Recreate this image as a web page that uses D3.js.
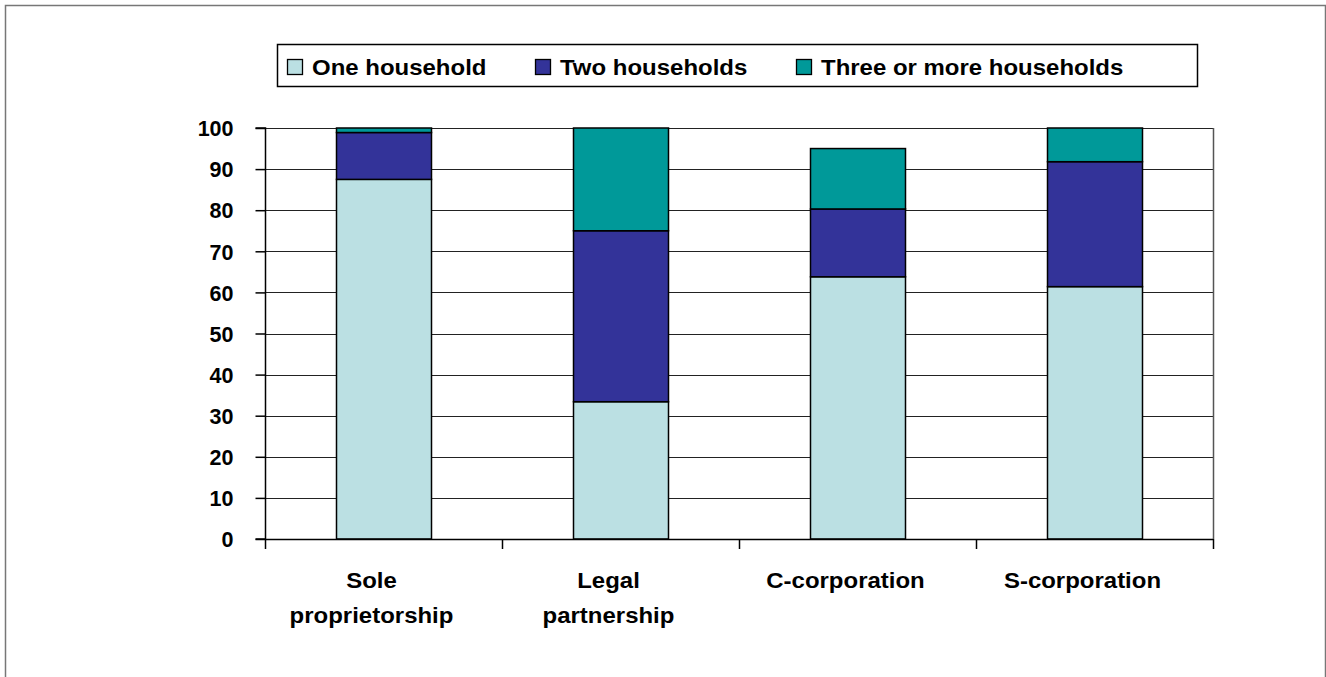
<!DOCTYPE html>
<html>
<head>
<meta charset="utf-8">
<script src="https://cdn.jsdelivr.net/npm/d3@7"></script>
<style>
  html, body { margin: 0; padding: 0; background: #fff; }
  svg { display: block; font-family: "Liberation Sans", Arial, sans-serif; font-weight: bold; }
</style>
</head>
<body>
<svg id="chart" width="1326" height="677"></svg>
<script>
const categories = [["Sole", "proprietorship"], ["Legal", "partnership"], ["C-corporation"], ["S-corporation"]];
const seriesNames = ["One household", "Two households", "Three or more households"];
const oneHousehold = [87.5, 33.4, 63.8, 61.4];
const twoHouseholds = [11.4, 41.6, 16.5, 30.4];
const threeOrMore = [1.1, 25.0, 14.7, 8.2];
const yTicks = [0, 10, 20, 30, 40, 50, 60, 70, 80, 90, 100];
const colors = ["#BBE0E3", "#333399", "#009999"];

const svg = d3.select("#chart");
const W = 1326, H = 677;
const SX = 1.09; // horizontal text stretch seen in the reference

// outer chart border
svg.append("rect").attr("x", 5.5).attr("y", 5.5).attr("width", W - 6).attr("height", H + 10)
  .attr("fill", "none").attr("stroke", "#777").attr("stroke-width", 1.5);

const plot = {left: 265, right: 1213, top: 128, bottom: 539};
const keys = categories.map(c => c.join(" "));
const x = d3.scaleBand().domain(keys).range([plot.left, plot.right]).paddingInner(0.6).paddingOuter(0.3);
const y = d3.scaleLinear().domain([0, 100]).range([plot.bottom, plot.top]);

// gridlines
svg.append("g").selectAll("line").data(yTicks.filter(d => d > 0)).join("line")
  .attr("x1", plot.left).attr("x2", plot.right)
  .attr("y1", d => Math.round(y(d)) + 0.5).attr("y2", d => Math.round(y(d)) + 0.5)
  .attr("stroke", "#222").attr("stroke-width", 1.2);

// plot right border
svg.append("line").attr("x1", plot.right + 0.5).attr("x2", plot.right + 0.5)
  .attr("y1", plot.top).attr("y2", plot.bottom).attr("stroke", "#555").attr("stroke-width", 1.5);

// stacked data
const rows = keys.map((k, i) => ({key: k, s0: oneHousehold[i], s1: twoHouseholds[i], s2: threeOrMore[i]}));
const stack = d3.stack().keys(["s0", "s1", "s2"])(rows);

svg.append("g").selectAll("g").data(stack).join("g")
  .attr("fill", (d, i) => colors[i])
  .selectAll("rect").data(d => d).join("rect")
  .attr("x", d => Math.round(x(d.data.key)) + 0.5)
  .attr("width", Math.round(x.bandwidth()))
  .attr("y", d => y(d[1]))
  .attr("height", d => y(d[0]) - y(d[1]))
  .attr("stroke", "#000").attr("stroke-width", 1.5);

// y axis
const yAxis = d3.axisLeft(y).tickValues(yTicks).tickSize(10).tickPadding(22).tickFormat(d3.format("d"));
const gy = svg.append("g").attr("transform", `translate(${plot.left + 0.5},0)`).call(yAxis);
gy.select(".domain").attr("stroke", "#000").attr("stroke-width", 1.5).attr("d", `M-10,${y(100)}H0V${y(0)}H-10`);
gy.selectAll(".tick line").attr("stroke", "#000").attr("stroke-width", 1.5);
gy.selectAll(".tick text").attr("fill", "#000").style("font-size", "21.5px").style("font-weight", "bold")
  .style("font-family", "'Liberation Sans', Arial, sans-serif").attr("dy", "0.36em");

// x axis line and boundary ticks
svg.append("line").attr("x1", plot.left).attr("x2", plot.right)
  .attr("y1", plot.bottom + 0.5).attr("y2", plot.bottom + 0.5).attr("stroke", "#000").attr("stroke-width", 1.5);
const boundaries = d3.range(keys.length + 1).map(i => plot.left + i * x.step());
svg.append("g").selectAll("line").data(boundaries).join("line")
  .attr("x1", d => Math.round(d) + 0.5).attr("x2", d => Math.round(d) + 0.5)
  .attr("y1", plot.bottom).attr("y2", plot.bottom + 10)
  .attr("stroke", "#000").attr("stroke-width", 1.5);

// category labels (slightly left of the bar centre, as in the reference)
const catG = svg.append("g").selectAll("g").data(categories).join("g")
  .attr("transform", (d, i) => `translate(${x(keys[i]) + x.bandwidth() / 2 - 12},0) scale(${SX},1)`);
catG.selectAll("text").data(d => d).join("text")
  .attr("x", 0).attr("y", (d, j) => 588 + j * 35)
  .attr("text-anchor", "middle").style("font-size", "22px").attr("fill", "#000")
  .text(d => d);

// legend
const leg = svg.append("g");
leg.append("rect").attr("x", 277.5).attr("y", 44.5).attr("width", 920).attr("height", 42)
  .attr("fill", "#fff").attr("stroke", "#000").attr("stroke-width", 1.5);
const legX = [287, 535, 796];
const li = leg.selectAll("g.item").data(seriesNames).join("g").attr("class", "item")
  .attr("transform", (d, i) => `translate(${legX[i]},59)`);
li.append("rect").attr("x", 0.5).attr("y", 0.5).attr("width", 15).attr("height", 15)
  .attr("fill", (d, i) => colors[i]).attr("stroke", "#000").attr("stroke-width", 1.3);
li.append("text").attr("transform", `translate(25,16) scale(${SX},1)`)
  .style("font-size", "22px").attr("fill", "#000").text(d => d);
</script>
</body>
</html>
